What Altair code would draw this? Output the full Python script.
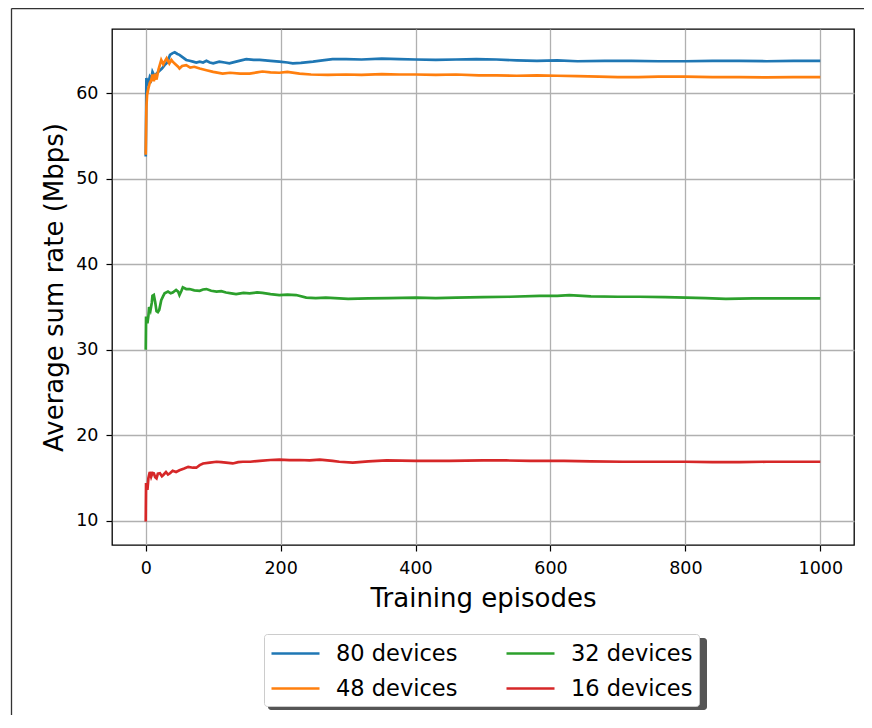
import altair as alt
import pandas as pd

FONT = "DejaVu Sans"

series_names = ["80 devices", "48 devices", "32 devices", "16 devices"]
series_colors = ["#1f77b4", "#ff7f0e", "#2ca02c", "#d62728"]

x_ticks = [0, 200, 400, 600, 800, 1000]
y_ticks = [10, 20, 30, 40, 50, 60]

devices80 = [
    (0, 52.6), (1, 61.8), (3, 60.9), (6, 61.9), (8, 61.6), (10, 62.5), (13, 62.0),
    (16, 62.3), (20, 62.6), (24, 62.9), (28, 63.3), (32, 63.6), (36, 64.5), (40, 64.7),
    (43, 64.8), (47, 64.6), (50, 64.5), (55, 64.2), (60, 63.9), (65, 63.8), (70, 63.7),
    (75, 63.6), (80, 63.7), (85, 63.6), (90, 63.8), (95, 63.6), (100, 63.5), (109, 63.7),
    (117, 63.6), (124, 63.5), (134, 63.7), (149, 64.0), (160, 63.9), (169, 63.9),
    (185, 63.8), (198, 63.7), (210, 63.6), (218, 63.5), (230, 63.55), (248, 63.7),
    (262, 63.85), (277, 64.0), (297, 64.0), (320, 63.95), (350, 64.05), (376, 64.0),
    (400, 63.95), (430, 63.9), (460, 63.95), (490, 64.0), (520, 63.95), (550, 63.85),
    (580, 63.8), (610, 63.85), (640, 63.75), (680, 63.8), (720, 63.8), (760, 63.75),
    (800, 63.75), (840, 63.8), (880, 63.8), (920, 63.75), (960, 63.8), (1000, 63.8),
]

devices48 = [
    (0, 52.8), (1, 58.4), (2, 59.8), (4, 60.6), (6, 61.2), (8, 61.5), (10, 62.2),
    (12, 61.4), (14, 62.3), (16, 61.6), (19, 62.8), (23, 63.9), (26, 63.4), (28, 63.7),
    (31, 64.1), (33, 63.8), (35, 63.5), (38, 63.9), (40, 63.7), (44, 63.4), (48, 63.1),
    (50, 62.9), (54, 63.2), (60, 63.3), (66, 63.0), (72, 63.1), (80, 62.9), (90, 62.7),
    (100, 62.5), (114, 62.3), (125, 62.4), (140, 62.3), (154, 62.3), (165, 62.45),
    (173, 62.55), (185, 62.45), (198, 62.4), (210, 62.5), (228, 62.3), (245, 62.2),
    (270, 62.15), (297, 62.2), (320, 62.15), (350, 62.25), (376, 62.2), (400, 62.2),
    (430, 62.15), (460, 62.2), (494, 62.1), (520, 62.1), (550, 62.05), (580, 62.1),
    (610, 62.05), (640, 62.0), (672, 61.95), (700, 61.9), (730, 61.9), (760, 61.95),
    (800, 61.95), (840, 61.9), (880, 61.9), (920, 61.85), (960, 61.9), (1000, 61.9),
]

devices32 = [
    (0, 30.0), (0.5, 33.9), (2.5, 33.1), (4, 34.0), (5, 35.0), (7, 34.6), (9, 35.5),
    (10, 36.3), (12, 36.4), (14, 35.6), (16, 34.5), (18, 34.4), (20, 34.65), (23, 35.8),
    (26, 36.3), (28, 36.6), (33, 36.8), (37, 36.6), (40, 36.7), (45, 37.0), (48, 36.8),
    (50, 36.4), (53, 36.9), (55, 37.3), (60, 37.1), (65, 37.1), (72, 36.95), (80, 36.9),
    (85, 37.05), (90, 37.1), (97, 36.9), (105, 36.8), (112, 36.85), (119, 36.7),
    (127, 36.6), (134, 36.5), (145, 36.65), (154, 36.6), (165, 36.7), (173, 36.65),
    (185, 36.5), (198, 36.4), (210, 36.45), (223, 36.4), (238, 36.1), (252, 36.05),
    (267, 36.1), (287, 36.0), (300, 35.95), (330, 36.0), (360, 36.05), (401, 36.1),
    (430, 36.05), (460, 36.1), (500, 36.15), (540, 36.2), (584, 36.3), (610, 36.3),
    (628, 36.4), (660, 36.25), (700, 36.2), (732, 36.2), (770, 36.15), (801, 36.1),
    (830, 36.05), (860, 35.95), (900, 36.0), (940, 36.0), (970, 36.0), (1000, 36.0),
]

devices16 = [
    (0, 9.9), (0.5, 14.4), (2.5, 13.6), (4, 15.0), (6, 15.7), (8, 15.15), (10, 15.6),
    (12, 15.55), (14, 15.1), (16, 14.96), (18, 15.5), (21, 15.55), (24, 15.2),
    (26, 15.35), (30, 15.7), (33, 15.4), (36, 15.55), (40, 15.85), (45, 15.7),
    (50, 15.9), (57, 16.1), (63, 16.3), (70, 16.2), (75, 16.2), (80, 16.5), (85, 16.7),
    (95, 16.8), (105, 16.9), (112, 16.85), (119, 16.8), (129, 16.7), (137, 16.85),
    (144, 16.9), (155, 16.9), (169, 17.0), (185, 17.1), (198, 17.15), (213, 17.1),
    (228, 17.1), (243, 17.05), (258, 17.15), (277, 17.0), (287, 16.9), (307, 16.8),
    (330, 16.95), (357, 17.05), (400, 17.0), (450, 17.0), (500, 17.05), (534, 17.05),
    (570, 17.0), (620, 17.0), (660, 16.95), (707, 16.9), (760, 16.9), (800, 16.9),
    (840, 16.85), (880, 16.85), (920, 16.9), (960, 16.9), (1000, 16.9),
]

rows = []
for name, pts in zip(series_names, [devices80, devices48, devices32, devices16]):
    for ep, val in pts:
        rows.append({"series": name, "episode": ep, "rate": val})
df = pd.DataFrame(rows)

one = pd.DataFrame({"k": [0]})

# figure frame (matplotlib figure edge) and legend shadow, in pixels
frame_v = alt.Chart(one).mark_rule(color="#333333", strokeWidth=1.3).encode(
    x=alt.value(-100.5), y=alt.value(-20.4), y2=alt.value(900)
)
frame_h = alt.Chart(one).mark_rule(color="#333333", strokeWidth=1.3).encode(
    x=alt.value(-100.5), x2=alt.value(900), y=alt.value(-20.4)
)
shadow = alt.Chart(one).mark_rect(color="#555555", cornerRadius=3).encode(
    x=alt.value(156), x2=alt.value(595), y=alt.value(609), y2=alt.value(681)
)

lines = alt.Chart(df).mark_line(strokeWidth=2.7, clip=True).encode(
    x=alt.X(
        "episode:Q",
        scale=alt.Scale(domain=[-50, 1050], nice=False, zero=False),
        axis=alt.Axis(values=x_ticks, format="d", title="Training episodes",
                      titlePadding=9, labelPadding=8),
    ),
    y=alt.Y(
        "rate:Q",
        scale=alt.Scale(domain=[7.16, 67.52], nice=False, zero=False),
        axis=alt.Axis(values=y_ticks, title="Average sum rate (Mbps)", titlePadding=8,
                      labelPadding=8),
    ),
    color=alt.Color(
        "series:N",
        sort=series_names,
        scale=alt.Scale(domain=series_names, range=series_colors),
        legend=alt.Legend(
            title=None, orient="none", legendX=152, legendY=605, columns=2,
            symbolType="M-2,0H2", symbolSize=576, symbolStrokeWidth=2.7,
            symbolOffset=12,
            labelFont=FONT, labelFontSize=22.5, labelColor="black", labelOffset=27,
            columnPadding=43, rowPadding=10, padding=6,
            fillColor="white", strokeColor="#cccccc", cornerRadius=3,
        ),
    ),
)

chart = alt.layer(frame_v, frame_h, shadow, lines).properties(
    width=742, height=516,
    padding={"left": 104, "top": 21, "right": 10, "bottom": 170},
    autosize=alt.AutoSizeParams(type="none"),
    background="white",
).configure_view(
    stroke="black", strokeWidth=1.3
).configure_axis(
    domain=False, grid=True, gridColor="#b0b0b0", gridWidth=1.3,
    ticks=True, tickColor="black", tickWidth=1.2, tickSize=6,
    labelFont=FONT, labelFontSize=17.5, labelColor="black",
    titleFont=FONT, titleFontSize=26, titleFontWeight="normal", titleColor="black",
)

chart.save("out.html", embed_options={"renderer": "svg", "actions": False})
